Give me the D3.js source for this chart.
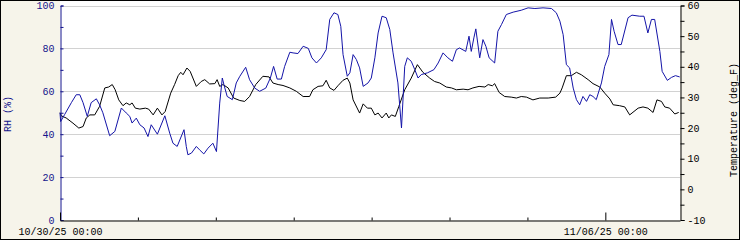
<!DOCTYPE html>
<html>
<head>
<meta charset="utf-8">
<script src="https://cdn.jsdelivr.net/npm/d3@7/dist/d3.min.js"></script>
<style>
  body { margin: 0; background: #fff; }
  svg { display: block; }
  text { font-family: "Liberation Mono", "DejaVu Sans Mono", monospace; font-size: 10px; }
</style>
</head>
<body>
<div id="chart"></div>
<script>
// hours since 10/30/25 00:00
var rhHours = [0, 0.2, 1.4, 3.5, 5.0, 6.1, 7.1, 8.4, 9.6, 11.2, 12.2, 13.2, 15.3, 16.9, 18.9, 20.4, 21.5, 22.2, 23.5, 24.6,
  25.9, 27.1, 28.1, 30.0, 32.3, 33.8, 34.8, 36.1, 38.2, 38.9, 39.4, 40.5, 42.0, 43.0, 44.3, 45.6, 47.1, 48.2, 49.2, 50.0,
  50.5, 51.5, 53.1, 54.3, 55.4, 57.2, 58.4, 60.0, 61.5, 63.4, 64.8, 65.8, 66.9, 68.2, 69.2, 70.8, 71.8, 73.3, 74.9, 76.5,
  77.6, 79.0, 80.5, 82.0, 83.1, 84.4, 85.6, 86.5, 87.2, 88.5, 89.3, 90.3, 91.3, 92.3, 93.4, 94.9, 95.9, 97.0, 98.0, 99.2,
  100.5, 101.6, 102.6, 104.1, 105.2, 106.2, 107.0, 108.2, 109.3, 110.3, 111.3, 113.2, 115.2, 116.5, 118.0, 119.5, 120.9, 122.1, 123.1, 125.0,
  126.0, 126.7, 127.5, 128.1, 129.3, 130.3, 131.2, 132.2, 133.9, 134.9, 136.0, 137.5, 139.6, 142.1, 144.2, 146.3, 148.8, 151.4, 152.9, 154.0,
  155.0, 156.0, 157.0, 158.1, 159.1, 160.1, 161.1, 162.2, 163.2, 164.2, 165.2, 166.8, 167.8, 169.1, 169.9, 170.7, 171.9, 172.9, 175.0, 176.2,
  178.6, 179.9, 181.1, 182.2, 183.2, 184.8, 185.5, 187.1, 188.4, 189.6, 190.9];
var rhValues = [50, 45.9, 49.1, 54.7, 58.4, 58.4, 54.7, 48.3, 54.7, 56.5, 53.7, 50.0, 39.3, 41.3, 52.2, 49.9, 48.3, 45.2, 47.5, 44.4,
  42.9, 38.9, 44.4, 40.0, 48.6, 40.5, 35.8, 34.3, 42.1, 34.3, 30.4, 31.2, 34.3, 32.7, 30.8, 33.5, 35.8, 31.9, 54.5, 66.2,
  63.1, 57.6, 56.1, 63.9, 67.0, 71.2, 65.4, 61.5, 60.0, 61.5, 66.2, 71.6, 65.7, 65.7, 71.6, 78.2, 77.9, 77.6, 81.0, 80.0,
  75.6, 73.2, 75.6, 79.4, 93.5, 96.6, 95.8, 90.3, 77.1, 67.0, 68.6, 77.1, 74.8, 70.9, 62.3, 63.9, 66.2, 75.6, 87.2, 95.0,
  94.3, 88.8, 77.9, 63.9, 42.9, 71.6, 75.6, 74.0, 70.1, 66.2, 67.8, 68.6, 70.1, 73.2, 77.9, 75.6, 74.0, 79.4, 80.2, 78.6,
  85.7, 78.6, 84.9, 89.1, 75.6, 84.1, 81.0, 75.6, 73.2, 88.0, 91.1, 95.8, 96.9, 97.8, 98.9, 98.6, 98.9, 98.6, 96.6, 92.7,
  86.4, 72.4, 70.9, 61.5, 56.1, 53.7, 57.6, 55.3, 58.4, 57.6, 56.1, 63.9, 71.6, 77.1, 93.5, 88.0, 81.8, 81.8, 94.3, 95.5,
  95.0, 95.0, 87.2, 93.5, 93.5, 78.6, 69.3, 65.1, 66.5, 67.3, 66.7];

var tempHours = [0, 0.4, 1.9, 4.0, 5.8, 7.1, 8.1, 9.2, 10.7, 12.2, 13.8, 15.0, 16.1, 17.0, 18.1, 19.4, 20.4, 21.5, 22.2, 23.2,
  24.6, 26.3, 27.3, 28.7, 30.0, 31.4, 32.4, 34.1, 35.3, 36.4, 37.2, 37.9, 39.1, 40.1, 42.0, 43.5, 44.6, 46.1, 47.7, 48.4,
  49.2, 50.2, 51.8, 53.5, 55.4, 56.9, 58.4, 60.3, 62.5, 64.4, 65.6, 67.2, 68.7, 70.8, 72.8, 74.9, 76.9, 77.9, 79.5, 81.0,
  82.0, 83.1, 84.4, 85.6, 87.2, 88.5, 89.3, 90.3, 92.3, 93.4, 94.7, 95.9, 97.0, 98.0, 99.2, 100.5, 101.3, 102.1, 103.3, 104.4,
  106.2, 108.2, 110.1, 111.8, 113.9, 115.4, 117.0, 119.0, 120.6, 122.1, 124.2, 125.7, 127.2, 129.1, 130.9, 131.9, 133.2, 133.9, 135.3, 137.0,
  139.0, 140.6, 142.1, 143.7, 145.7, 147.8, 150.4, 152.7, 154.0, 154.7, 156.0, 157.5, 159.1, 160.6, 162.7, 164.2, 166.3, 167.8, 169.4, 170.4,
  172.4, 174.0, 175.5, 178.1, 179.6, 181.1, 182.7, 183.9, 185.3, 186.3, 187.8, 189.4, 190.6];
var tempValues = [25.0, 24.0, 23.3, 21.6, 20.0, 20.5, 23.3, 24.3, 24.3, 27.1, 33.1, 33.4, 34.2, 32.5, 29.2, 27.3, 28.2, 27.6, 28.2, 26.5,
  26.2, 26.5, 26.2, 24.3, 26.5, 24.3, 25.4, 31.4, 34.2, 37.1, 38.2, 37.4, 39.6, 38.5, 33.6, 35.2, 35.8, 34.4, 34.5, 35.8,
  33.6, 34.2, 33.1, 29.8, 29.0, 28.7, 30.3, 34.2, 36.9, 36.7, 34.7, 34.2, 33.9, 33.1, 32.0, 30.3, 30.3, 32.5, 33.6, 33.8,
  35.6, 33.1, 32.3, 33.8, 35.6, 36.3, 34.7, 29.2, 24.9, 27.9, 26.5, 26.5, 24.3, 24.9, 23.3, 24.9, 23.3, 24.3, 23.8, 27.1,
  32.5, 36.3, 40.7, 38.2, 36.3, 35.2, 34.7, 33.4, 33.1, 32.5, 32.7, 32.5, 33.1, 33.6, 33.4, 34.2, 33.8, 34.5, 31.6, 30.3,
  30.1, 29.8, 30.3, 30.1, 29.2, 29.8, 29.8, 30.1, 31.4, 33.1, 37.1, 37.1, 38.2, 37.4, 35.8, 34.5, 33.4, 31.4, 29.5, 27.6,
  27.3, 26.9, 24.3, 26.5, 26.9, 26.5, 25.1, 29.2, 28.7, 26.9, 26.5, 24.6, 25.1];

var rhTicks = [0, 10, 20, 30, 40, 50, 60, 70, 80, 90, 100];
var tempTicks = [-10, -5, 0, 5, 10, 15, 20, 25, 30, 35, 40, 45, 50, 55, 60];
var gridValues = [20, 40, 60, 80, 100];
var dateLabels = ["10/30/25 00:00", "11/06/25 00:00"];

function drawChart() {
  var width = 740, height = 240;
  var plotLeft = 60, plotRight = 680, plotTop = 5.5, plotBottom = 220;
  var blue = "#1414a8", axisBlue = "#14148c";

  var t0 = Date.UTC(2025, 9, 30, 0, 0);
  function toDate(h) { return new Date(t0 + h * 3600000); }

  var x = d3.scaleUtc().domain([toDate(0), toDate(191)]).range([plotLeft, plotRight]);
  var yRH = d3.scaleLinear().domain([0, 100]).range([plotBottom, plotTop]);
  var yT = d3.scaleLinear().domain([-10, 60]).range([plotBottom, plotTop]);

  var svg = d3.select("#chart").append("svg")
    .attr("width", width).attr("height", height);

  svg.append("rect").attr("x", 0.5).attr("y", 0.5)
    .attr("width", width - 1).attr("height", height - 1)
    .attr("fill", "#f6f4ea").attr("stroke", "#000");

  svg.append("rect").attr("x", plotLeft).attr("y", 1)
    .attr("width", plotRight - plotLeft).attr("height", plotBottom - 1)
    .attr("fill", "#fff");

  // horizontal grid
  svg.append("g").selectAll("line").data(gridValues).enter().append("line")
    .attr("x1", plotLeft).attr("x2", plotRight)
    .attr("y1", d => Math.round(yRH(d)) + 0.5).attr("y2", d => Math.round(yRH(d)) + 0.5)
    .attr("stroke", "#d2d2d2");

  // lines
  var rhLine = d3.line().x((d, i) => x(toDate(rhHours[i]))).y(d => yRH(d));
  var tLine = d3.line().x((d, i) => x(toDate(tempHours[i]))).y(d => yT(d));

  svg.append("path").datum(tempValues).attr("d", tLine)
    .attr("fill", "none").attr("stroke", "#000").attr("stroke-width", 1);
  svg.append("path").datum(rhValues).attr("d", rhLine)
    .attr("fill", "none").attr("stroke", blue).attr("stroke-width", 1);

  // left axis (RH)
  var gl = svg.append("g").attr("transform", "translate(" + (plotLeft + 0.5) + ",0)")
    .call(d3.axisLeft(yRH).tickValues(rhTicks).tickSize(-3).tickPadding(6)
      .tickFormat(d => d % 20 === 0 ? d : ""));
  gl.select(".domain").attr("stroke", axisBlue);
  gl.selectAll(".tick line").attr("stroke", axisBlue);
  gl.selectAll("text").attr("fill", axisBlue).attr("font-family", null).attr("font-size", null);

  // right axis (temperature)
  var gr = svg.append("g").attr("transform", "translate(" + (plotRight + 0.5) + ",0)")
    .call(d3.axisRight(yT).tickValues(tempTicks).tickSize(4).tickPadding(3)
      .tickFormat(d => d % 10 === 0 ? d : ""));
  gr.selectAll("text").attr("fill", "#000").attr("font-family", null).attr("font-size", null);

  // bottom axis (time)
  var fmt = d3.utcFormat("%m/%d/%y %H:%M");
  var gb = svg.append("g").attr("transform", "translate(0," + (plotBottom + 0.5) + ")")
    .call(d3.axisBottom(x).ticks(d3.utcDay.every(1)).tickSize(-3).tickPadding(7)
      .tickSizeOuter(0)
      .tickFormat(d => dateLabels.indexOf(fmt(d)) >= 0 ? fmt(d) : ""));
  gb.selectAll(".tick").filter(d => dateLabels.indexOf(fmt(d)) >= 0)
    .select("line").attr("y2", -8);
  gb.selectAll("text").attr("fill", "#000").attr("font-family", null).attr("font-size", null);

  // axis titles
  svg.append("text")
    .attr("transform", "translate(11,114) rotate(-90)")
    .attr("text-anchor", "middle").attr("fill", axisBlue)
    .text("RH (%)");
  svg.append("text")
    .attr("transform", "translate(737,120) rotate(-90)")
    .attr("text-anchor", "middle").attr("fill", "#000")
    .text("Temperature (deg_F)");
}

drawChart();
</script>
</body>
</html>
